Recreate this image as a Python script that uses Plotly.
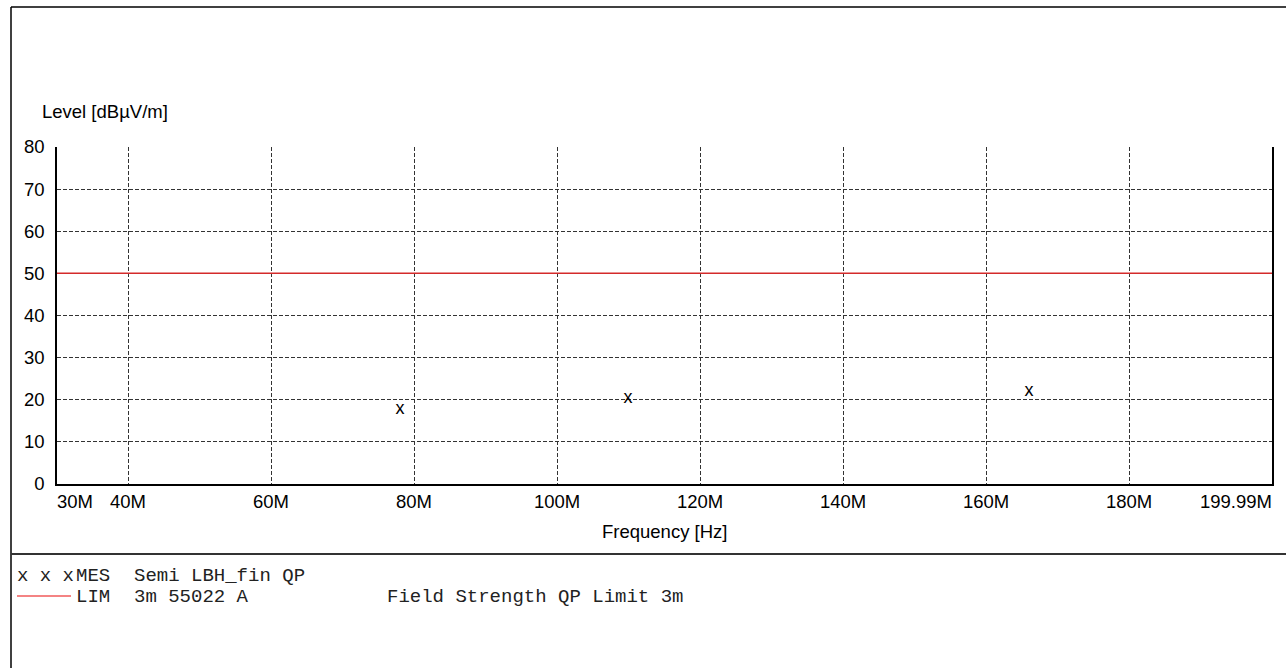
import plotly.graph_objects as go

# ---- data ----
x_range = [30, 199.99]
y_range = [0, 80]
x_tick_vals = [30, 40, 60, 80, 100, 120, 140, 160, 180, 199.99]
x_tick_text = ["30M", "40M", "60M", "80M", "100M", "120M", "140M", "160M", "180M", "199.99M"]
x_grid_vals = [40, 60, 80, 100, 120, 140, 160, 180]
y_tick_vals = [0, 10, 20, 30, 40, 50, 60, 70, 80]
mes_freq = [78.0, 109.9, 166.0]      # MHz
mes_level = [17.8, 20.3, 22.0]       # dBuV/m
lim_freq = [30, 199.99]
lim_level = [50, 50]

# ---- layout geometry (pixels) ----
W, H = 1286, 668
L, R, T, B = 57, 1272, 147, 484

def px(x):
    return (x - L) / (R - L)

def py(y):
    return (B - y) / (B - T)

SANS = "Liberation Sans, Arial, sans-serif"
MONO = "Liberation Mono, Courier New, monospace"
FS = 18.5

fig = go.Figure()

fig.add_trace(go.Scatter(
    x=lim_freq, y=lim_level, mode="lines",
    line=dict(color="#d42a2a", width=1.5),
    hoverinfo="skip", showlegend=False,
))
fig.add_trace(go.Scatter(
    x=mes_freq, y=mes_level, mode="text", text=["x"] * len(mes_freq),
    textposition="middle center",
    textfont=dict(family=SANS, size=18, color="black"),
    showlegend=False,
))

annotations = []
for i, (v, t) in enumerate(zip(x_tick_vals, x_tick_text)):
    anchor = "left" if i == 0 else ("right" if i == len(x_tick_vals) - 1 else "center")
    annotations.append(dict(
        x=v, xref="x", y=py(501), yref="paper", text=t, showarrow=False,
        xanchor=anchor, yanchor="middle", xshift=(-2 if anchor == "left" else (2 if anchor == "right" else 0)),
        font=dict(family=SANS, size=FS, color="black"),
    ))

annotations.append(dict(x=px(664), xref="paper", y=py(531), yref="paper",
                        text="Frequency [Hz]", showarrow=False, xanchor="center", yanchor="middle",
                        font=dict(family=SANS, size=FS, color="black")))
annotations.append(dict(x=px(42), xref="paper", y=py(111), yref="paper",
                        text="Level [dBµV/m]", showarrow=False, xanchor="left", yanchor="middle",
                        xshift=-2,
                        font=dict(family=SANS, size=FS, color="black")))

legend_items = [
    (17, 575.5, "x x x"),
    (76, 575.5, "MES"),
    (134, 575.5, "Semi LBH_fin QP"),
    (76, 596.5, "LIM"),
    (134, 596.5, "3m 55022 A"),
    (387, 596.5, "Field Strength QP Limit 3m"),
]
for xx, yy, t in legend_items:
    annotations.append(dict(x=px(xx), xref="paper", y=py(yy), yref="paper",
                            text=t, showarrow=False, xanchor="left", yanchor="middle",
                            xshift=-2,
                            font=dict(family=MONO, size=19, color="#222")))

shapes = [
    # outer frame
    dict(type="line", xref="paper", yref="paper", x0=px(11), x1=px(1300), y0=py(7), y1=py(7),
         line=dict(color="black", width=1.5)),
    dict(type="line", xref="paper", yref="paper", x0=px(11), x1=px(11), y0=py(7), y1=py(680),
         line=dict(color="black", width=1.5)),
    # separator
    dict(type="line", xref="paper", yref="paper", x0=px(11), x1=px(1300), y0=py(554), y1=py(554),
         line=dict(color="#333333", width=2)),
    # legend red line
    dict(type="line", xref="paper", yref="paper", x0=px(17), x1=px(71), y0=py(596), y1=py(596),
         line=dict(color="#f05a5a", width=1.5)),
]

fig.update_layout(
    width=W, height=H,
    margin=dict(l=L, r=W - R, t=T, b=H - B),
    paper_bgcolor="white", plot_bgcolor="white",
    showlegend=False,
    annotations=annotations, shapes=shapes,
    xaxis=dict(
        range=x_range, tickmode="array", tickvals=x_grid_vals, showticklabels=False,
        showgrid=True, gridcolor="#333333", gridwidth=1, griddash="4px,2px",
        showline=True, linecolor="black", linewidth=1.5, mirror=False,
        ticks="", zeroline=False, fixedrange=True,
    ),
    yaxis=dict(
        range=y_range, tickmode="array", tickvals=y_tick_vals,
        ticktext=[str(v) for v in y_tick_vals],
        showgrid=True, gridcolor="#333333", gridwidth=1, griddash="4px,2px",
        showline=True, linecolor="black", linewidth=1.5, mirror=True,
        ticks="", ticklabelstandoff=7, zeroline=False, fixedrange=True,
        tickfont=dict(family=SANS, size=FS, color="black"),
    ),
)

fig.write_html("out.html", config={"displayModeBar": False},
               post_script="document.body.style.margin='0';document.body.style.overflow='hidden';")
